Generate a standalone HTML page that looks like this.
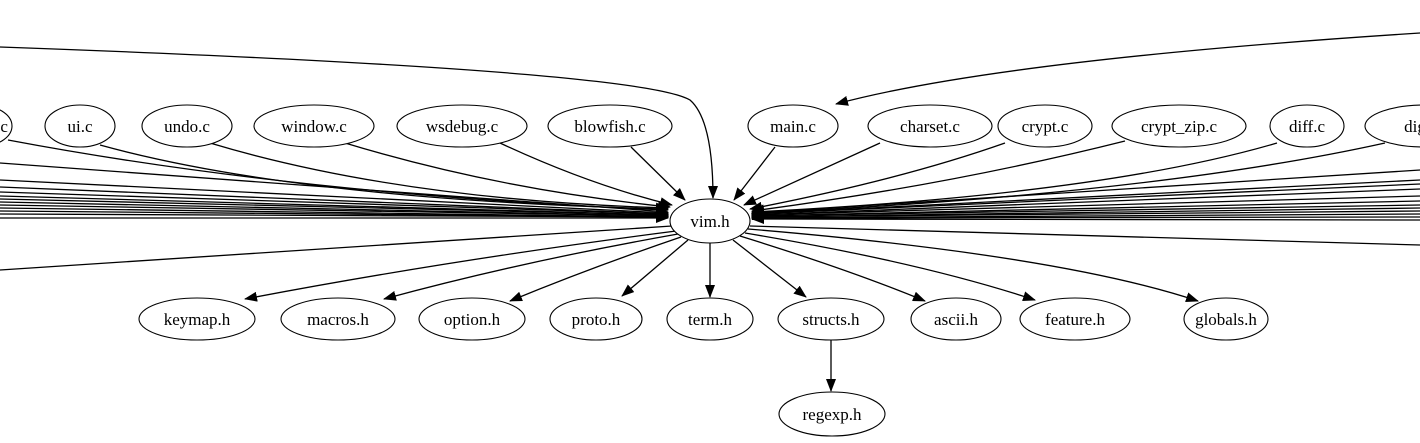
<!DOCTYPE html>
<html><head><meta charset="utf-8"><style>html,body{margin:0;padding:0;background:#fff}svg{display:block}</style></head>
<body>
<svg width="1420" height="443" viewBox="0 0 1420 443" xmlns="http://www.w3.org/2000/svg" font-family="Liberation Serif, serif" font-size="17">
<defs><marker id="a" markerWidth="13" markerHeight="10" refX="12" refY="5" orient="auto" markerUnits="userSpaceOnUse"><path d="M0,0L13,5L0,10z" fill="#000"/></marker></defs>
<g fill="none" stroke="#000" stroke-width="1.3">
<path d="M0,163 L668,212" marker-end="url(#a)"/>
<path d="M0,180 L668,213" marker-end="url(#a)"/>
<path d="M0,187 L668,214" marker-end="url(#a)"/>
<path d="M0,192 L668,214" marker-end="url(#a)"/>
<path d="M0,196 L668,215" marker-end="url(#a)"/>
<path d="M0,199 L668,215" marker-end="url(#a)"/>
<path d="M0,202 L668,216" marker-end="url(#a)"/>
<path d="M0,205 L668,216" marker-end="url(#a)"/>
<path d="M0,208 L668,217" marker-end="url(#a)"/>
<path d="M0,211 L668,217" marker-end="url(#a)"/>
<path d="M0,214 L668,217" marker-end="url(#a)"/>
<path d="M0,218 L668,218" marker-end="url(#a)"/>
<path d="M0,270 L672,226"/>
<path d="M8,140 Q300,195 668,210" marker-end="url(#a)"/>
<path d="M100,145 Q300,200 668,209" marker-end="url(#a)"/>
<path d="M210,143 Q400,200 668,208" marker-end="url(#a)"/>
<path d="M345,143 Q500,190 670,207" marker-end="url(#a)"/>
<path d="M500,143 Q590,185 672,205" marker-end="url(#a)"/>
<path d="M631,147 L685,200" marker-end="url(#a)"/>
<path d="M0,47 Q640,70 690,100 Q713,120 713,198" marker-end="url(#a)"/>
<path d="M1420,33 Q1000,60 836,104" marker-end="url(#a)"/>
<path d="M775,147 L734,200" marker-end="url(#a)"/>
<path d="M880,143 L744,205" marker-end="url(#a)"/>
<path d="M1005,143 Q900,180 750,209" marker-end="url(#a)"/>
<path d="M1125,141 Q950,185 752,211" marker-end="url(#a)"/>
<path d="M1277,143 Q1100,195 752,212" marker-end="url(#a)"/>
<path d="M1385,143 Q1150,195 752,213" marker-end="url(#a)"/>
<path d="M1420,170 L752,213" marker-end="url(#a)"/>
<path d="M1420,180 L752,214" marker-end="url(#a)"/>
<path d="M1420,184 L752,214" marker-end="url(#a)"/>
<path d="M1420,189 L752,215" marker-end="url(#a)"/>
<path d="M1420,196 L752,215" marker-end="url(#a)"/>
<path d="M1420,201 L752,216" marker-end="url(#a)"/>
<path d="M1420,205 L752,216" marker-end="url(#a)"/>
<path d="M1420,208 L752,217" marker-end="url(#a)"/>
<path d="M1420,211 L752,217" marker-end="url(#a)"/>
<path d="M1420,214 L752,218" marker-end="url(#a)"/>
<path d="M1420,217 L752,218" marker-end="url(#a)"/>
<path d="M1420,220 L752,219" marker-end="url(#a)"/>
<path d="M750,226 L1420,245"/>
<path d="M676,231 Q450,260 245,299" marker-end="url(#a)"/>
<path d="M678,234 Q520,262 384,299" marker-end="url(#a)"/>
<path d="M681,237 Q590,268 510,301" marker-end="url(#a)"/>
<path d="M688,240 L622,296" marker-end="url(#a)"/>
<path d="M710,243 L710,297" marker-end="url(#a)"/>
<path d="M733,240 L806,297" marker-end="url(#a)"/>
<path d="M740,236 Q850,270 925,301" marker-end="url(#a)"/>
<path d="M745,233 Q920,262 1035,300" marker-end="url(#a)"/>
<path d="M748,229 Q1060,255 1198,301" marker-end="url(#a)"/>
<path d="M831,340 L831,391" marker-end="url(#a)"/>
</g>
<g fill="#fff" stroke="#000" stroke-width="1.1">
<ellipse cx="-22" cy="126" rx="34" ry="21"/>
<ellipse cx="80" cy="126" rx="35" ry="21"/>
<ellipse cx="187" cy="126" rx="45" ry="21"/>
<ellipse cx="314" cy="126" rx="60" ry="21"/>
<ellipse cx="462" cy="126" rx="65" ry="21"/>
<ellipse cx="610" cy="126" rx="62" ry="21"/>
<ellipse cx="793" cy="126" rx="45" ry="21"/>
<ellipse cx="930" cy="126" rx="62" ry="21"/>
<ellipse cx="1045" cy="126" rx="47" ry="21"/>
<ellipse cx="1179" cy="126" rx="67" ry="21"/>
<ellipse cx="1307" cy="126" rx="37" ry="21"/>
<ellipse cx="1425" cy="126" rx="60" ry="21"/>
<ellipse cx="710" cy="221" rx="40" ry="22"/>
<ellipse cx="197" cy="319" rx="58" ry="21"/>
<ellipse cx="338" cy="319" rx="57" ry="21"/>
<ellipse cx="472" cy="319" rx="53" ry="21"/>
<ellipse cx="596" cy="319" rx="46" ry="21"/>
<ellipse cx="710" cy="319" rx="43" ry="21"/>
<ellipse cx="831" cy="319" rx="53" ry="21"/>
<ellipse cx="956" cy="319" rx="45" ry="21"/>
<ellipse cx="1075" cy="319" rx="55" ry="21"/>
<ellipse cx="1226" cy="319" rx="42" ry="21"/>
<ellipse cx="832" cy="414" rx="53" ry="22"/>
</g>
<g text-anchor="middle" fill="#000">
<text x="-14" y="132">misc.c</text>
<text x="80" y="132">ui.c</text>
<text x="187" y="132">undo.c</text>
<text x="314" y="132">window.c</text>
<text x="462" y="132">wsdebug.c</text>
<text x="610" y="132">blowfish.c</text>
<text x="793" y="132">main.c</text>
<text x="930" y="132">charset.c</text>
<text x="1045" y="132">crypt.c</text>
<text x="1179" y="132">crypt_zip.c</text>
<text x="1307" y="132">diff.c</text>
<text x="1436" y="132">digraph.c</text>
<text x="710" y="227">vim.h</text>
<text x="197" y="325">keymap.h</text>
<text x="338" y="325">macros.h</text>
<text x="472" y="325">option.h</text>
<text x="596" y="325">proto.h</text>
<text x="710" y="325">term.h</text>
<text x="831" y="325">structs.h</text>
<text x="956" y="325">ascii.h</text>
<text x="1075" y="325">feature.h</text>
<text x="1226" y="325">globals.h</text>
<text x="832" y="420">regexp.h</text>
</g>
</svg>
</body></html>
